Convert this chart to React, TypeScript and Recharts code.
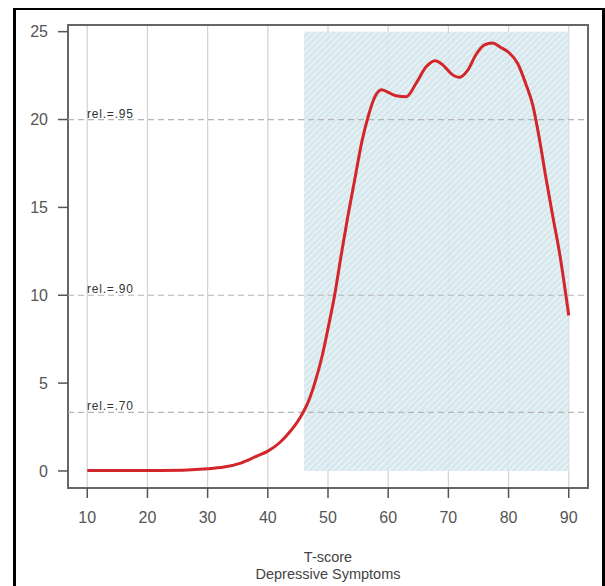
import React from "react";
import {
  ComposedChart,
  Line,
  XAxis,
  YAxis,
  CartesianGrid,
  ReferenceArea,
  ReferenceLine,
} from "recharts";

const tScores = [
  10, 14, 18, 22, 26, 28, 30, 32.7, 35.5, 38.2, 40, 42, 43.6, 45.3, 46.8, 47.8,
  49, 50, 51.1, 52.2, 53.3, 54.4, 55.6, 56.7, 57.8, 58.9, 60, 61.3, 63, 64.7,
  66.3, 67.8, 69.1, 70.5, 71.8, 73.2, 74.6, 76, 77.3, 78.7, 80.1, 81.5, 82.9,
  84, 85.1, 86.2, 87.4, 88.5, 90,
];
const information = [
  0.03, 0.03, 0.03, 0.03, 0.04, 0.08, 0.12, 0.22, 0.45, 0.85, 1.13, 1.62, 2.2,
  3.0, 4.0, 5.0, 6.5, 8.1, 10.0, 12.3, 14.5, 16.5, 18.7, 20.2, 21.3, 21.7,
  21.55, 21.35, 21.3, 22.1, 23.0, 23.35, 23.1, 22.6, 22.4, 22.8, 23.7, 24.25,
  24.35, 24.1, 23.8, 23.2, 22.0, 20.85, 18.95, 16.7, 14.4, 12.35, 8.85,
];
const xTicks = [10, 20, 30, 40, 50, 60, 70, 80, 90];
const yTicks = [0, 5, 10, 15, 20, 25];
const relValues = [20, 10, 3.333];
const relLabels = ["rel.=.95", "rel.=.90", "rel.=.70"];
const shadeRange = [46, 90];
const shadeTop = 25;
const xDomain = [6.8, 93.2];
const yDomain = [-0.97, 25.38];
const titleLines = ["T-score", "Depressive Symptoms"];

const data = tScores.map((t, i) => ({ t, info: information[i] }));

const FONT = "'Liberation Sans', Arial, sans-serif";

const HatchShape = (props: any) => {
  const { x, y, width, height } = props;
  return (
    <g>
      <defs>
        <pattern
          id="hatch"
          width="4.5"
          height="4.5"
          patternUnits="userSpaceOnUse"
          patternTransform="rotate(45)"
        >
          <line x1="0" y1="0" x2="0" y2="4.5" stroke="#ffffff" strokeWidth="1.4" strokeOpacity="0.9" />
        </pattern>
      </defs>
      <rect x={x} y={y} width={width} height={height} fill="#d3e5ec" fillOpacity={0.9} />
      <rect x={x} y={y} width={width} height={height} fill="url(#hatch)" />
    </g>
  );
};

const AxisTitle = (props: any) => {
  const vb = props.viewBox || {};
  const cx = vb.x + vb.width / 2;
  return (
    <g>
      <text x={cx} y={vb.y + 73.5} textAnchor="middle" fontFamily={FONT} fontSize={14.5} fill="#444">
        {titleLines[0]}
      </text>
      <text x={cx} y={vb.y + 90.5} textAnchor="middle" fontFamily={FONT} fontSize={14.5} fill="#444">
        {titleLines[1]}
      </text>
    </g>
  );
};

const makeRelLabel = (label: string) => (props: any) => {
  const vb = props.viewBox || {};
  return (
    <text
      x={vb.x + 19}
      y={vb.y - 2}
      fontFamily={FONT}
      fontSize={12}
      letterSpacing={0.8}
      fill="#333"
    >
      {label}
    </text>
  );
};

export default function App() {
  return (
    <div
      style={{
        position: "absolute",
        left: 0,
        top: 0,
        width: 605,
        height: 586,
        overflow: "hidden",
        background: "#fff",
        fontFamily: FONT,
      }}
    >
      <div
        style={{
          position: "absolute",
          left: 13,
          top: 8,
          width: 586,
          height: 700,
          borderLeft: "3px solid #000",
          borderRight: "3px solid #000",
          borderTop: "2px solid #000",
        }}
      />
      <div style={{ position: "absolute", left: 0, top: 0 }}>
        <ComposedChart
          width={605}
          height={586}
          data={data}
          margin={{ top: 25, right: 17, bottom: 58, left: 18 }}
        >
          <CartesianGrid horizontal={false} stroke="#d2d2d2" strokeWidth={1.2} />
          <XAxis
            dataKey="t"
            type="number"
            domain={xDomain}
            ticks={xTicks}
            allowDataOverflow
            height={40}
            axisLine={false}
            tickSize={10}
            tickMargin={14}
            tickLine={{ stroke: "#555", strokeWidth: 1.5 }}
            tick={{ fill: "#555", fontSize: 16, fontFamily: FONT }}
            label={<AxisTitle />}
          />
          <YAxis
            type="number"
            domain={yDomain}
            ticks={yTicks}
            allowDataOverflow
            width={50}
            axisLine={false}
            tickSize={10}
            tickMargin={10}
            tickLine={{ stroke: "#555", strokeWidth: 1.5 }}
            tick={{ fill: "#555", fontSize: 16, fontFamily: FONT }}
          />
          <ReferenceArea
            x1={shadeRange[0]}
            x2={shadeRange[1]}
            y1={0}
            y2={shadeTop}
            shape={HatchShape}
            ifOverflow="visible"
          />
          {relValues.map((v, i) => (
            <ReferenceLine
              key={i}
              y={v}
              stroke="#b5b5b5"
              strokeDasharray="6 4"
              strokeWidth={1.2}
              label={makeRelLabel(relLabels[i])}
            />
          ))}
          <Line
            type="monotone"
            dataKey="info"
            stroke="#d3262b"
            strokeWidth={3}
            dot={false}
            isAnimationActive={false}
          />
          <ReferenceArea
            x1={xDomain[0]}
            x2={xDomain[1]}
            y1={yDomain[0]}
            y2={yDomain[1]}
            fill="none"
            fillOpacity={0}
            stroke="#666"
            strokeWidth={2}
            ifOverflow="visible"
          />
        </ComposedChart>
      </div>
    </div>
  );
}
